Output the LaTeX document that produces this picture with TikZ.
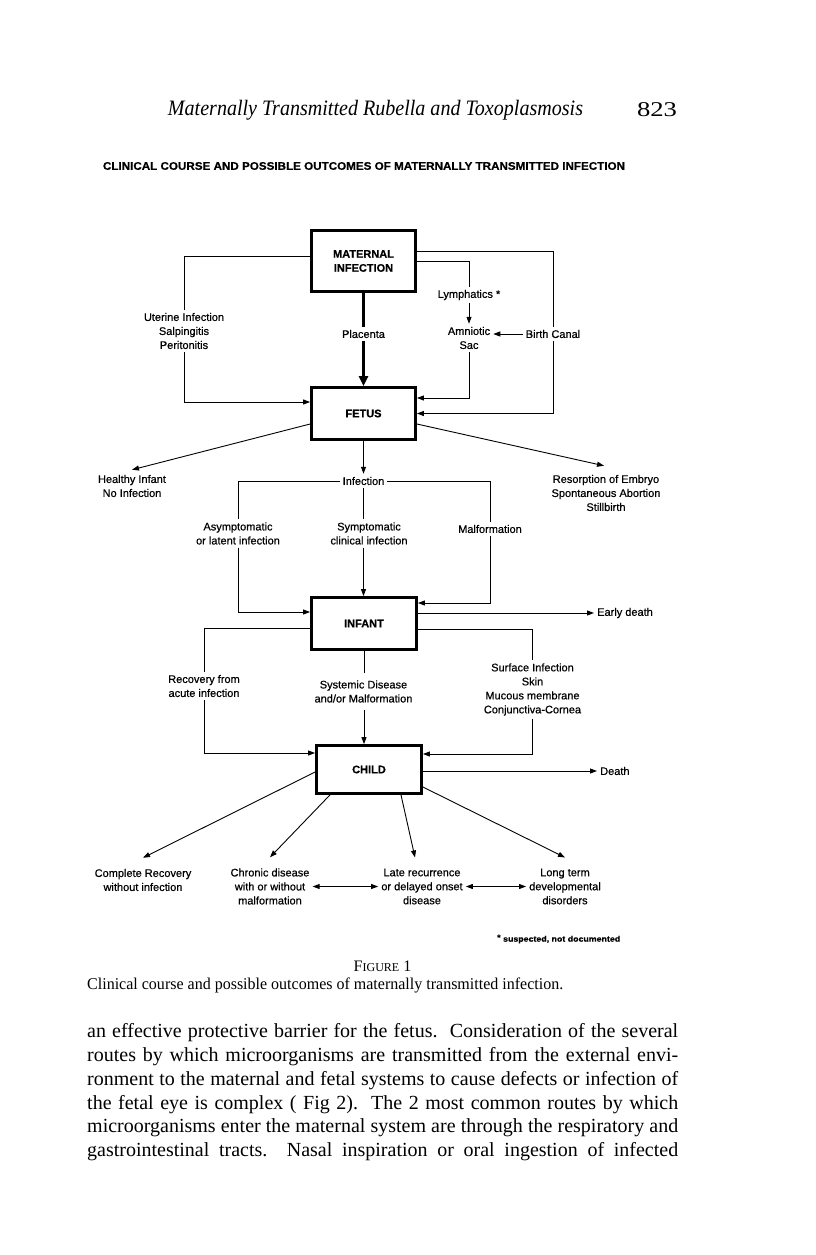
\documentclass[tikz,border=0pt]{standalone}
\usepackage{fontspec}
\usepackage{graphicx}
\setmainfont{Liberation Serif}
\newfontfamily\diag[FakeBold=0.5]{Liberation Sans}
\newfontfamily\bodyfont{Liberation Serif}
\usetikzlibrary{arrows.meta,calc}
\newcommand{\fitw}[2]{\resizebox{#1}{\height}{#2}}
\begin{document}
\begin{tikzpicture}[x=1pt,y=-1pt,
  box/.style={draw, line width=2.8pt, inner sep=0pt, align=center,
    font=\diag\bfseries\fontsize{11}{14}\selectfont},
  lbl/.style={align=center, inner sep=3pt, font=\diag\fontsize{11}{14}\selectfont},
  ln/.style={line width=0.9pt},
  arr/.style={ln, -{Triangle[length=7pt,width=5pt]}},
  dbl/.style={ln, {Triangle[length=7pt,width=5pt]}-{Triangle[length=7pt,width=5pt]}},
  thickln/.style={line width=3.3pt},
  thickarr/.style={line width=3.3pt, -{Triangle[length=10pt,width=9pt]}},
  body/.style={anchor=west, inner sep=0pt, font=\bodyfont\fontsize{20}{24}\selectfont}]
\fill[white] (0,0) rectangle (816,1255);
\useasboundingbox (0,0) rectangle (816,1255);

% page header
\node[inner sep=0pt] (runhead) at (375.5,110) {\fitw{415pt}{\fontsize{22}{26}\selectfont\itshape Maternally Transmitted Rubella and Toxoplasmosis}};
\node[inner sep=0pt] (pageno) at (657,110) {\fitw{40pt}{\fontsize{21}{24}\selectfont 823}};
\node[inner sep=0pt] (title) at (364,166) {\fitw{522pt}{\diag\bfseries\fontsize{11}{13}\selectfont CLINICAL COURSE AND POSSIBLE OUTCOMES OF MATERNALLY TRANSMITTED INFECTION}};

% boxes
\node[box, minimum width=104pt, minimum height=61pt] (mat) at (363.5,261) {MATERNAL\\INFECTION};
\node[box, minimum width=104pt, minimum height=52pt] (fetus) at (363.5,413.5) {FETUS};
\node[box, minimum width=105pt, minimum height=52pt] (infant) at (364,623.5) {INFANT};
\node[box, minimum width=105pt, minimum height=48pt] (child) at (369,769.5) {CHILD};

% labels, maternal -> fetus
\node[lbl] (uter) at (184,331) {Uterine Infection\\Salpingitis\\Peritonitis};
\node[lbl] (plac) at (363.5,334) {Placenta};
\node[lbl] (lymph) at (469,295) {Lymphatics *};
\node[lbl] (amn) at (469,338) {Amniotic\\Sac};
\node[lbl] (birth) at (553,334) {Birth Canal};

% fetus outcomes
\node[lbl] (healthy) at (132,486) {Healthy Infant\\No Infection};
\node[lbl] (resorp) at (606,493) {Resorption of Embryo\\Spontaneous Abortion\\Stillbirth};
\node[lbl] (infection) at (363.5,481) {Infection};
\node[lbl] (asym) at (238,533.5) {Asymptomatic\\or latent infection};
\node[lbl] (sympt) at (369,533.5) {Symptomatic\\clinical infection};
\node[lbl] (malf) at (490,529) {Malformation};
\node[lbl, anchor=west] (early) at (594,613) {Early death};

% infant -> child
\node[lbl] (recov) at (204,686) {Recovery from\\acute infection};
\node[lbl, inner ysep=7pt] (syst) at (363.5,691.5) {Systemic Disease\\and/or Malformation};
\node[lbl] (surf) at (532.5,689.5) {Surface Infection\\Skin\\Mucous membrane\\Conjunctiva-Cornea};
\node[lbl, anchor=west] (death) at (597,771) {Death};

% child outcomes
\node[lbl] (compl) at (143,880) {Complete Recovery\\without infection};
\node[lbl] (chron) at (270,886.5) {Chronic disease\\with or without\\malformation};
\node[lbl] (late) at (422,886.5) {Late recurrence\\or delayed onset\\disease};
\node[lbl] (longt) at (565,886.5) {Long term\\developmental\\disorders};
\node[inner sep=0pt, anchor=west] (foot) at (497,939) {\fitw{123pt}{\diag\bfseries\fontsize{8}{9}\selectfont\raisebox{1.5pt}{*} suspected, not documented}};

% connectors maternal -> fetus
\draw[ln] ([yshift=5pt]mat.west) -| (uter.north);
\draw[arr] (uter.south) |- ([yshift=11.5pt]fetus.west);
\draw[thickln] (mat.south) -- (plac.north);
\draw[thickarr] (plac.south) -- (fetus.north);
\draw[ln] ([yshift=10pt]mat.east) -| (birth.north);
\draw[arr] (birth.south) |- (fetus.east);
\draw[ln] (mat.east) -| (lymph.north);
\draw[arr] (lymph.south) -- (amn.north);
\draw[arr] (amn.south) |- ([yshift=15.5pt]fetus.east);
\draw[arr] (birth.west) -- (birth.west -| amn.east);

% fetus outcomes
\draw[arr] ([yshift=-10.5pt]fetus.west) -- ([yshift=2pt]healthy.north);
\draw[arr] ([yshift=-10.5pt]fetus.east) -- ([xshift=-2pt,yshift=6pt]resorp.north);
\draw[arr] (fetus.south) -- (infection.north);
\draw[ln] (infection.west) -| (asym.north);
\draw[arr] (asym.south) |- ([yshift=11.5pt]infant.west);
\draw[ln] (infection.south) -- (infection.south |- sympt.north);
\draw[arr] (infection.south |- sympt.south) -- (infection.south |- infant.north);
\draw[ln] (infection.east) -| (malf.north);
\draw[arr] (malf.south) |- ([yshift=20.5pt]infant.east);
\draw[arr] ([yshift=10.5pt]infant.east) -- (early.west);

% infant -> child
\draw[ln] ([yshift=-4.5pt]infant.west) -| (recov.north);
\draw[arr] (recov.south) |- ([yshift=16.5pt]child.west);
\draw[ln] (infant.south) -- (infant.south |- syst.north);
\draw[arr] (infant.south |- syst.south) -- (infant.south |- child.north);
\draw[ln] ([yshift=-5.5pt]infant.east) -| (surf.north);
\draw[arr] (surf.south) |- ([yshift=15.5pt]child.east);
\draw[arr] ([yshift=-1.5pt]child.east) -- (death.west);

% child outcomes
\draw[arr] ([yshift=-2.5pt]child.west) -- ([yshift=8pt]compl.north);
\draw[arr] ([xshift=-39pt]child.south) -- ([yshift=8pt]chron.north);
\draw[arr] ([xshift=32pt]child.south) -- ([xshift=-7pt,yshift=8pt]late.north);
\draw[arr] ([yshift=-17.5pt]child.east) -- ([yshift=8pt]longt.north);
\draw[dbl] (chron.east) -- (late.west);
\draw[dbl] (late.east) -- (longt.west);

% caption
\node[inner sep=0pt] (figlbl) at (382.5,966) {\fontsize{16}{18}\selectfont F{\fontsize{12}{18}\selectfont IGURE} 1};
\node[inner sep=0pt, anchor=west] (caption) at (87,985) {\fitw{476pt}{\fontsize{16.5}{18}\selectfont Clinical course and possible outcomes of maternally transmitted infection.}};

% body text
\node[body] (b1) at (87,1033) {\makebox[591pt][s]{an effective protective barrier for the fetus.\ \ Consideration of the several}};
\node[body] (b2) at (87,1057) {\makebox[591pt][s]{routes by which microorganisms are transmitted from the external envi-}};
\node[body] (b3) at (87,1081) {\makebox[591pt][s]{ronment to the maternal and fetal systems to cause defects or infection of}};
\node[body] (b4) at (87,1105) {\makebox[591pt][s]{the fetal eye is complex ( Fig 2).\ \ The 2 most common routes by which}};
\node[body] (b5) at (87,1128) {\makebox[591pt][s]{microorganisms enter the maternal system are through the respiratory and}};
\node[body] (b6) at (87,1152) {\makebox[591pt][s]{gastrointestinal tracts.\ \ Nasal inspiration or oral ingestion of infected}};
\end{tikzpicture}
\end{document}
